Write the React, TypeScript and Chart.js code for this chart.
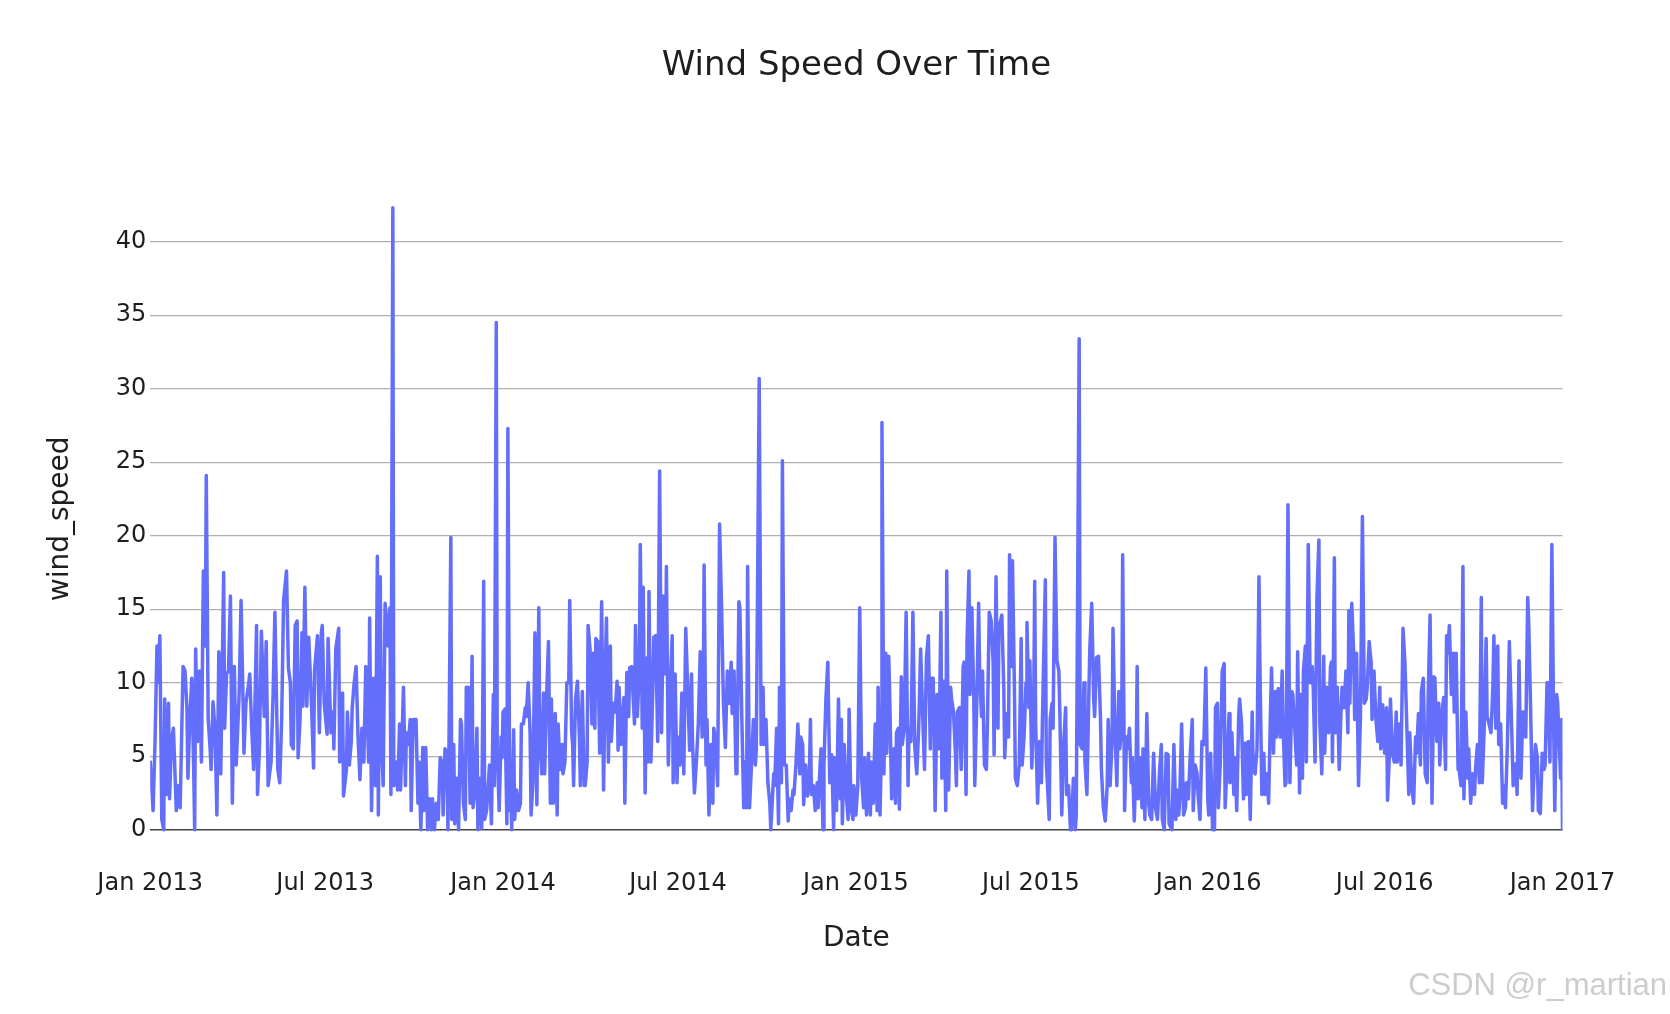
import React, { useEffect, useRef } from "react";
import { Chart, registerables } from "chart.js";

Chart.register(...registerables);

// ---- Text ----
const chartTitle = "Wind Speed Over Time";
const xAxisTitle = "Date";
const yAxisTitle = "wind_speed";
const watermark = "CSDN @r_martian";

// ---- Axis ticks ----
const xTickDates = ["2013-01-01", "2013-07-01", "2014-01-01", "2014-07-01", "2015-01-01", "2015-07-01", "2016-01-01", "2016-07-01", "2017-01-01"];
const xTickLabels = ["Jan 2013", "Jul 2013", "Jan 2014", "Jul 2014", "Jan 2015", "Jul 2015", "Jan 2016", "Jul 2016", "Jan 2017"];
const yTickValues = [0, 5, 10, 15, 20, 25, 30, 35, 40];

// ---- Data: day of year (0 = 1 Jan) and wind speed, one pair of arrays per year ----
const doy2013 = [
  0, 3, 5, 7, 8, 10, 12, 14, 15, 17,
  19, 20, 22, 24, 27, 29, 31, 34, 36, 38,
  39, 41, 43, 45, 46, 47, 49, 51, 53, 55,
  57, 58, 60, 62, 63, 65, 67, 69, 71, 73,
  76, 77, 79, 81, 83, 85, 87, 89, 92, 94,
  96, 97, 99, 102, 103, 105, 107, 110, 111, 113,
  115, 118, 120, 122, 125, 127, 129, 132, 134, 136,
  138, 141, 143, 145, 146, 148, 150, 152, 153, 155,
  157, 158, 160, 162, 164,
  167, 169, 170, 173, 175, 177, 178, 180, 183, 184,
  187, 189, 190, 192, 195, 196, 199, 200, 203, 204,
  206, 208, 209, 211, 213, 215, 217, 219, 221, 223,
  226, 227, 229, 231, 233, 235, 236, 238, 239, 241,
  243, 245, 246, 248, 249, 251, 252, 254, 256, 258,
  259, 262, 264, 265, 267, 269, 270, 272, 275, 277,
  278, 280, 282, 283, 285, 287, 289, 291, 292, 294,
  296, 298, 300, 302, 303, 305, 307, 308, 309, 311,
  312, 314, 315, 317, 319, 321, 322, 324, 326, 327,
  329, 331, 333, 334, 336, 338, 339, 341, 343, 345,
  346, 348, 351,
  353, 355, 356, 358, 359, 361, 363, 364,
];
const wind2013 = [
  4.7, 1.3, 6, 12.5, 10, 13.2, 0.7, 0, 8.9, 2.4,
  8.6, 2.1, 6, 6.9, 1.3, 3, 1.5, 11.1, 10.8, 8.3,
  3.5, 7.5, 10.3, 4.1, 0, 12.3, 6, 10.8, 4.6, 17.6,
  12.5, 24.1, 7.5, 5.5, 4.1, 8.7, 6.9, 1, 12.1, 3.8,
  17.5, 6.9, 10.6, 10.8, 15.9, 1.8, 11.1, 4.4, 9.2, 15.6,
  8.9, 5.2, 8.6, 10, 10.6, 6.9, 4.1, 13.9, 2.4, 5.5,
  13.5, 7.7, 12.8, 3, 4.6, 8.9, 14.8, 4.1, 3.2, 7.5,
  15.6, 17.6, 11, 10, 5.8, 5.5, 13.9, 14.2, 4.9, 7.5,
  13.4, 8.4, 16.5, 8.4, 13.1,
  8.3, 4.2, 10.8, 13.2, 6.6, 13.4, 13.9, 8.6, 6.5, 13,
  6.6, 8, 5.5, 12.3, 13.7, 4.6, 9.3, 2.3, 4.1, 8,
  4.4, 6, 8.3, 10, 11.1, 6.3, 3.4, 6.9, 4.6, 11.1,
  4.6, 14.4, 1.3, 10.3, 3, 18.6, 1, 17.2, 6.3, 3,
  15.4, 13.9, 12.5, 15.1, 2.4, 42.3, 3, 4.6, 2.7, 7.2,
  2.7, 9.7, 3, 6.6, 5.8, 7.5, 1.3, 7.5, 7.5, 1.8,
  4.6, 0, 5.6, 1.3, 5.6, 0, 2.1, 0, 2.1, 0,
  1.8, 0.7, 4.9, 4.6, 1, 5.5, 5.2, 0, 5.2, 19.9,
  0.7, 5.8, 0.4, 3.5, 0, 7.5, 7.2, 1.8, 0.7, 9.7,
  9.7, 1.8, 11.8, 1.5, 2.7, 6.9, 0, 3.5, 0.1, 16.9,
  0.7, 1.3, 4.4,
  0.4, 9.2, 3, 34.5, 5.5, 1.3, 6.3, 4.9,
];

const doy2014 = [
  0, 2, 4, 5, 7, 8, 9, 11, 12, 14,
  16, 18, 19, 21, 23, 24, 26, 28, 29, 31,
  33, 35, 37, 38, 40, 42, 43, 45, 47, 49,
  50, 52, 54, 56, 57, 59, 61, 62, 64, 66,
  68, 69, 71, 72, 73, 75, 77, 79, 80, 82,
  84, 85, 87, 88, 90, 92, 93, 95, 96, 98,
  100, 102, 104, 106, 107, 109, 111, 112, 114, 116,
  118, 119, 120, 122, 125, 126, 128, 130, 131, 133,
  136, 137, 139, 141, 142, 144, 145, 147, 149, 150,
  151, 153, 155, 156, 158, 160, 162,
  164, 166, 168, 169, 171, 173, 175, 176, 178, 180,
  181, 183, 185, 187, 189, 191, 193, 195, 196, 198,
  200, 202, 204, 206, 207, 208, 210, 211, 213, 215,
  217, 218, 220, 222, 224, 226, 228, 230, 232, 234,
  236, 237, 239, 241, 242, 244, 245, 247, 249, 250,
  252, 253, 255, 257, 259, 261, 262, 265, 267, 269,
  270, 272, 274, 276, 277, 280, 281, 283, 285, 286,
  288, 289, 291, 293, 295, 296, 298, 300, 301, 303,
  305, 307, 308, 310, 311, 313, 315, 317, 318, 319,
  321, 323, 325, 326, 328, 329, 331, 332, 334, 336,
  338,
  340, 342, 343, 345, 347, 349, 350, 351, 353, 355,
  357, 358, 360, 362, 363,
];
const wind2014 = [
  8, 8.2, 0.4, 27.3, 1.3, 2.7, 0, 6.8, 0.7, 2.7,
  1.3, 1.8, 7.2, 7.2, 8.3, 7.7, 10, 6.6, 1, 3.2,
  13.4, 1.7, 15.1, 6.3, 3.8, 9.3, 3.8, 8.9, 12.8, 1.8,
  8.9, 1.8, 7.9, 1, 7.2, 4.1, 5.8, 3.8, 4.6, 10,
  10, 15.6, 6.6, 5.8, 3, 8.9, 10.1, 6.3, 3, 9.4,
  3, 3, 4.6, 13.9, 12.3, 7.2, 12, 6.9, 13, 12.8,
  5.2, 15.5, 2.7, 11.7, 14.4, 4.6, 12.5, 6, 8.6, 8,
  10.1, 5.4, 9.7, 5.8, 9, 1.8, 10.7, 7.7, 11, 11.1,
  7.2, 13.9, 7.7, 11.1, 19.4, 6.9, 16.5, 2.5, 11.7, 4.6,
  16.2, 4.6, 9.7, 13.1, 13.2, 6, 24.4,
  6.6, 15.9, 10.6, 17.9, 4.4, 9.7, 13.2, 3.2, 10.6, 3.2,
  6.3, 4.4, 9.3, 3.8, 13.7, 9.7, 5.4, 10.6, 6, 2.5,
  4.6, 7.2, 12.1, 6.3, 7.2, 18, 4.4, 7.5, 1, 5.8,
  1.8, 6.9, 6, 3, 20.8, 15.4, 8.6, 5.6, 10.8, 8.6,
  11.4, 7.9, 10.8, 3.8, 4.4, 15.5, 15.1, 7.7, 1.5, 4.6,
  1.5, 17.9, 1.5, 4.4, 7.5, 4.4, 5.5, 30.7, 5.8, 9.7,
  5.8, 7.5, 3.2, 1.8, 0, 3.8, 3, 6.9, 0.4, 9.7,
  3.2, 25.1, 4.4, 4.4, 0.6, 2.1, 1.3, 2.7, 2.4, 4.4,
  7.2, 3.8, 6.3, 5.8, 1.7, 4.4, 2.3, 4.1, 7.5, 2.4,
  3, 1.3, 3.2, 1.5, 4.4, 5.5, 0, 4.4, 8.9, 11.4,
  3.2,
  5.1, 0, 4.9, 1.3, 8.9, 2.1, 7.5, 0.4, 5.8, 2.4,
  0.7, 8.2, 1.5, 0.7, 3,
];

const doy2015 = [
  0, 2, 4, 6, 8, 9, 11, 13, 15, 16,
  18, 20, 22, 23, 25, 26, 27, 29, 31, 32,
  34, 35, 37, 39, 41, 42, 44, 45, 47, 48,
  50, 52, 54, 55, 57, 59, 61, 63, 65, 67,
  69, 71, 73, 75, 77, 78, 80, 82, 84, 86,
  88, 89, 91, 93, 94, 96, 98, 99, 101, 103,
  104, 105, 107, 109, 111, 112, 114, 115, 117, 118,
  120, 122, 123, 125, 127, 128, 130, 131, 133, 135,
  136, 138, 140, 142, 143, 145, 147, 148,
  151, 153, 154, 156, 158, 159, 161, 162, 164, 165,
  167, 169, 171, 172, 174, 176, 177, 179, 180, 182,
  184, 185, 186, 188, 190, 192, 193, 196, 197, 200,
  201, 203, 204, 206, 208, 210, 211, 213, 215, 217,
  218, 220, 222, 223, 225, 227, 228, 231, 232, 234,
  236, 237, 239, 241, 242, 244, 246, 247, 249, 251,
  253, 254, 256, 258, 260, 261, 263, 265, 266, 268,
  270, 272, 273, 275, 276, 278, 280, 281, 283, 285,
  286, 288, 290, 291, 292, 294, 296, 297, 299, 301,
  303, 304, 306, 308, 310, 312, 314, 316, 317, 319,
  321, 323, 324,
  327, 329, 331, 332, 334, 335, 337, 339, 341, 342,
  344, 346, 348, 349, 351, 353, 354, 356, 358, 360,
  362, 364,
];
const wind2015 = [
  1, 3, 15.1, 3.5, 1.5, 4.9, 1, 5.2, 1, 4.6,
  1.8, 7.2, 1.3, 9.7, 1, 4.1, 27.7, 3.8, 12, 5.2,
  11.8, 9.2, 2.1, 5.5, 1.8, 6.6, 6.9, 1.4, 10.4, 5.8,
  6.9, 14.8, 3, 6.9, 6, 14.8, 5.6, 3.8, 6.9, 12.3,
  8, 4.1, 11.7, 13.2, 5.5, 10.3, 10.3, 1.3, 9.2, 5.5,
  14.8, 3.5, 10.1, 1.3, 17.6, 2.7, 9.7, 8.9, 8, 5.2,
  3, 8, 8.3, 4.1, 11.1, 11.4, 2.4, 12.8, 17.6, 9.2,
  15.1, 8.9, 3, 8.3, 15.4, 10.8, 7.7, 10.8, 4.4, 4.1,
  6.9, 14.8, 14.2, 11.4, 5.1, 17.2, 6.9, 13.7,
  14.6, 9.7, 4.9, 7.9, 6.3, 18.7, 11.1, 18.3, 9.7, 3.5,
  3, 4.4, 13, 4.4, 6.3, 10, 14.1, 8.3, 11.5, 4.2,
  8.6, 16.9, 7.2, 1.8, 6, 3.2, 7.5, 17, 4.6, 0.7,
  7.5, 8.6, 6.9, 19.9, 11.5, 10.8, 8, 1, 5.8, 8.3,
  2.4, 3, 0, 0, 3.5, 0, 1, 33.4, 5.8, 5.5,
  10, 4.6, 2.4, 9.2, 12.3, 15.4, 8.9, 7.7, 11.7, 11.8,
  7.7, 4.1, 1.5, 0.6, 3, 7.5, 3, 6, 13.7, 6.9,
  3, 9.4, 5.5, 6.9, 18.7, 1.3, 6.3, 5.5, 6.9, 3.2,
  4.9, 0.6, 4.9, 11.1, 2.1, 4.9, 1.5, 5.5, 0.7, 7.9,
  1.8, 1, 0.7, 5.2, 1.5, 0.7, 3.8, 5.8, 0.7, 0,
  5.2, 5.1, 0.4,
  0, 5.8, 0.7, 2.7, 1, 2.1, 7.2, 1, 1.5, 3.2,
  2.1, 5.2, 7.5, 1.3, 4.4, 3.8, 2.4, 0.7, 6, 5.8,
  11, 2.1,
];

const doy2016 = [
  0, 2, 4, 6, 7, 9, 10, 12, 14, 16,
  17, 19, 21, 22, 24, 26, 27, 29, 31, 32,
  34, 36, 38, 39, 41, 43, 45, 46, 48, 50,
  52, 53, 55, 57, 58, 60, 62, 64, 65, 67,
  69, 70, 72, 74, 76, 77, 79, 80, 82, 84,
  86, 87, 89, 91, 92, 94, 95, 97, 98, 100,
  101, 103, 105, 107, 108, 110, 112, 114, 115, 117,
  119, 120, 122, 124, 126, 127, 128, 130, 131, 133,
  135,
  137, 138, 140, 142, 144, 145, 146, 148, 150, 151,
  153, 155, 157, 159, 161, 163, 164, 166, 168, 169,
  171, 173, 175, 177, 178, 180, 182, 184, 185, 187,
  188, 190, 192, 194, 195, 197, 199, 201, 203, 205,
  207, 208, 210, 212, 214, 215, 217, 219, 220, 222,
  224, 226, 227, 229, 231, 233, 234, 236, 238, 239,
  241, 243, 245, 246, 247, 249, 251, 253, 254, 256,
  258, 259, 261, 263, 264, 266, 268, 269, 271, 273,
  275, 276, 278, 280, 282, 283, 285, 287, 288, 290,
  292, 294, 295, 297, 299, 300, 302, 304, 306, 307,
  309, 311,
  315, 316, 318, 319, 321, 323, 325, 326, 328, 330,
  331, 333, 335, 336, 338, 340, 341, 343, 345, 347,
  348, 350, 351, 353, 355, 357, 358, 360, 361, 362,
  364, 365,
];
const wind2016 = [
  1, 5.2, 0, 0, 8.3, 8.6, 1.5, 4.6, 10.8, 11.3,
  1.5, 4.4, 7.9, 3.2, 6.6, 2.4, 4.9, 1.3, 7.7, 8.9,
  7.2, 2.1, 5.9, 2.4, 6, 0.7, 8, 4.1, 3.8, 5.5,
  17.2, 11.1, 2.4, 5.2, 2.4, 3.8, 1.8, 8.3, 11, 5.2,
  9.4, 6.3, 9.6, 6.3, 10.8, 6.9, 3, 3.2, 22.1, 3.2,
  9.4, 9.2, 6.9, 4.4, 12.1, 2.5, 9.2, 3.5, 10.8, 12.5,
  4.6, 19.4, 10, 11.1, 10, 4.6, 15.8, 19.7, 7.2, 3.8,
  11.8, 5.2, 9.7, 6.6, 11.1, 11.4, 4.6, 18.5, 6.6, 9.7,
  4.1,
  8.3, 9.7, 8.3, 10.8, 6.6, 14.9, 8.6, 15.4, 12, 7.5,
  12, 3, 7.7, 21.3, 8.6, 8.9, 9.7, 12.8, 11.4, 7.5,
  10.8, 7.5, 6, 9.7, 5.5, 8.5, 5.2, 8.3, 2, 5.2,
  8.9, 5.2, 4.6, 8, 4.6, 7.2, 4.4, 13.7, 11.4, 6.9,
  2.4, 6.6, 3, 1.8, 6.3, 5.2, 7.9, 4.4, 9.4, 10.3,
  3.8, 3.2, 8.9, 14.6, 1.8, 10.4, 10.3, 6, 8.6, 4.4,
  7.7, 9, 4.1, 13.2, 12, 13.9, 9.2, 12, 8, 12,
  4.1, 4.1, 3, 17.9, 2.1, 8, 3.5, 5.5, 1.8, 3.8,
  2.4, 4.1, 5.8, 3.2, 15.8, 3.2, 6.9, 13, 7.7, 7.2,
  6.6, 9.7, 13.2, 6.9, 12.5, 5.8, 7.2, 1.8, 3, 1.5,
  5.8, 12.8,
  3, 4.4, 4.5, 2.4, 11.5, 3.5, 8, 8, 6.3, 15.8,
  14.2, 8.3, 1.3, 3, 5.8, 4.9, 1.3, 1.1, 5.2, 4.1,
  4.4, 10, 10, 4.6, 19.4, 6.3, 1.3, 9.2, 8.6, 6.9,
  3.5, 7.5,
];

const doy2017 = [0];
const wind2017 = [0];

const years = [2013, 2014, 2015, 2016, 2017];
const dayOfYearByYear = [doy2013, doy2014, doy2015, doy2016, doy2017];
const windByYear = [wind2013, wind2014, wind2015, wind2016, wind2017];

// ---- helpers ----
const DAY_MS = 86400000;
const START_MS = Date.UTC(2013, 0, 1);
const daysFromStart = (ms: number) => Math.round((ms - START_MS) / DAY_MS);
const dateStrToDays = (s: string) => {
  const [y, m, d] = s.split("-").map(Number);
  return daysFromStart(Date.UTC(y, m - 1, d));
};

const buildPoints = () => {
  const pts: { x: number; y: number }[] = [];
  years.forEach((yr, i) => {
    const base = daysFromStart(Date.UTC(yr, 0, 1));
    const doys = dayOfYearByYear[i];
    const vals = windByYear[i];
    const n = Math.min(doys.length, vals.length);
    for (let k = 0; k < n; k++) pts.push({ x: base + doys[k], y: vals[k] });
  });
  return pts;
};

const FONT = '"DejaVu Sans", Verdana, sans-serif';
const TEXT_COLOR = "#1e1e1e";

const textPlugin = {
  id: "plotlyTexts",
  afterDraw(chart: any) {
    const { ctx, chartArea } = chart;
    const cx = (chartArea.left + chartArea.right) / 2;
    const cy = (chartArea.top + chartArea.bottom) / 2;
    ctx.save();
    ctx.fillStyle = TEXT_COLOR;
    ctx.textAlign = "center";
    ctx.textBaseline = "alphabetic";
    ctx.font = `34px ${FONT}`;
    ctx.fillText(chartTitle, cx, 75);
    ctx.font = `28px ${FONT}`;
    ctx.fillText(xAxisTitle, cx, 946);
    ctx.save();
    ctx.translate(61, cy);
    ctx.rotate(-Math.PI / 2);
    ctx.textBaseline = "middle";
    ctx.fillText(yAxisTitle, 0, 0);
    ctx.restore();
    ctx.font = `31px "Liberation Sans", Arial, sans-serif`;
    ctx.textAlign = "right";
    ctx.fillStyle = "#cdcdcd";
    ctx.fillText(watermark, 1667, 995);
    ctx.restore();
  },
};

export default function App() {
  const canvasRef = useRef<HTMLCanvasElement | null>(null);

  useEffect(() => {
    if (!canvasRef.current) return;
    const points = buildPoints();
    const xTickValues = xTickDates.map(dateStrToDays);
    const xMax = xTickValues[xTickValues.length - 1];

    const chart = new Chart(canvasRef.current, {
      type: "line",
      data: {
        datasets: [
          {
            label: "wind_speed",
            data: points,
            borderColor: "#636efa",
            backgroundColor: "#636efa",
            borderWidth: 3.5,
            pointRadius: 0,
            tension: 0,
            fill: false,
            borderJoinStyle: "round",
          },
        ],
      },
      options: {
        animation: false,
        responsive: false,
        layout: { padding: { left: 0, top: 177, right: 107.5, bottom: 93.4 } },
        plugins: {
          legend: { display: false },
          tooltip: { enabled: false },
          title: { display: false },
        },
        scales: {
          x: {
            type: "linear",
            min: 0,
            max: xMax,
            afterBuildTicks: (scale: any) => {
              scale.ticks = xTickValues.map((v) => ({ value: v }));
            },
            afterFit: (scale: any) => {
              scale.height = 60;
            },
            grid: { display: false, drawTicks: false },
            border: { display: false },
            ticks: {
              autoSkip: false,
              maxRotation: 0,
              minRotation: 0,
              padding: 9,
              color: TEXT_COLOR,
              font: { family: FONT, size: 24 },
              callback: (value: any) => {
                const idx = xTickValues.indexOf(Number(value));
                return idx >= 0 ? xTickLabels[idx] : "";
              },
            },
          },
          y: {
            type: "linear",
            min: -2.1,
            max: 44.4,
            afterBuildTicks: (scale: any) => {
              scale.ticks = yTickValues.map((v) => ({ value: v }));
            },
            afterFit: (scale: any) => {
              scale.width = 150.2;
            },
            grid: {
              drawTicks: false,
              color: (ctx: any) => (ctx.tick && ctx.tick.value === 0 ? "#444" : "#b0b0b0"),
              lineWidth: (ctx: any) => (ctx.tick && ctx.tick.value === 0 ? 1.6 : 1.2),
            },
            border: { display: false },
            ticks: {
              padding: 4,
              color: TEXT_COLOR,
              font: { family: FONT, size: 24 },
              callback: (value: any) => String(value),
            },
          },
        },
      },
      plugins: [textPlugin],
    } as any);

    return () => chart.destroy();
  }, []);

  return (
    <canvas
      ref={canvasRef}
      width={1670}
      height={1014}
      style={{ position: "absolute", left: 0, top: 0, width: 1670, height: 1014, display: "block", background: "#fff" }}
    />
  );
}
